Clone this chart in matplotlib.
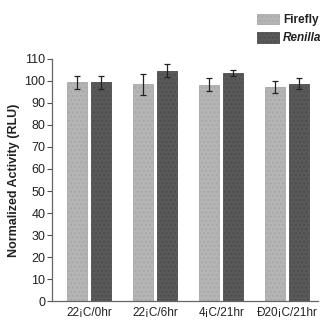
import numpy as np
import matplotlib
matplotlib.use("Agg")
import matplotlib.pyplot as plt

plt.rcParams["font.family"] = ["Liberation Sans", "DejaVu Sans"]

CONDITIONS = ["22¡C/0hr", "22¡C/6hr", "4¡C/21hr", "Ð20¡C/21hr"]
FIREFLY = [99.3, 98.4, 98.3, 97.1]
FIREFLY_ERR = [2.8, 4.8, 2.8, 2.8]
RENILLA = [99.3, 104.6, 103.6, 98.8]
RENILLA_ERR = [2.8, 3.0, 1.5, 2.7]
YTICKS = [0, 10, 20, 30, 40, 50, 60, 70, 80, 90, 100, 110]

fig = plt.figure(figsize=(3.23, 3.20), dpi=100)
ax = fig.add_axes([0.162, 0.059, 0.823, 0.757])

x = np.arange(len(CONDITIONS))
w, off = 0.30, 0.18
ax.bar(x - off, FIREFLY, w, color="#b5b5b5", edgecolor="#a8a8a8", hatch="....",
       lw=0.6, label="Firefly")
ax.bar(x + off, RENILLA, w, color="#595959", edgecolor="#4d4d4d", hatch="....",
       lw=0.6, label="Renilla")
ax.errorbar(x - off, FIREFLY, yerr=FIREFLY_ERR, fmt="none", ecolor="#222222",
            elinewidth=0.9, capsize=2.5, capthick=0.9)
ax.errorbar(x + off, RENILLA, yerr=RENILLA_ERR, fmt="none", ecolor="#222222",
            elinewidth=0.9, capsize=2.5, capthick=0.9)

ax.set_xlim(-0.56, 3.47)
ax.set_ylim(0, 110)
ax.set_yticks(YTICKS)
ax.set_xticks(x)
ax.set_xticklabels(CONDITIONS, fontsize=8.5, color="#222222")
ax.tick_params(axis="x", length=0, pad=4)
ax.tick_params(axis="y", labelsize=9, length=3.5, width=0.8, color="#555555",
               labelcolor="#222222", pad=1.5)
for s in ("top", "right"):
    ax.spines[s].set_visible(False)
for s in ("left", "bottom"):
    ax.spines[s].set_color("#666666")
    ax.spines[s].set_linewidth(0.9)
ax.set_ylabel("Normalized Activity (RLU)", fontsize=9, fontweight="bold",
              color="#222222", labelpad=3)

leg = fig.legend(loc="upper left", bbox_to_anchor=(0.778, 0.975), frameon=False,
                 fontsize=8.5, handlelength=1.85, handleheight=1.0,
                 handletextpad=0.35, labelspacing=0.5, borderpad=0)
for t in leg.get_texts():
    t.set_fontweight("bold")
    t.set_color("#222222")
leg.get_texts()[1].set_fontstyle("italic")

fig.savefig("out.png", dpi=100)
